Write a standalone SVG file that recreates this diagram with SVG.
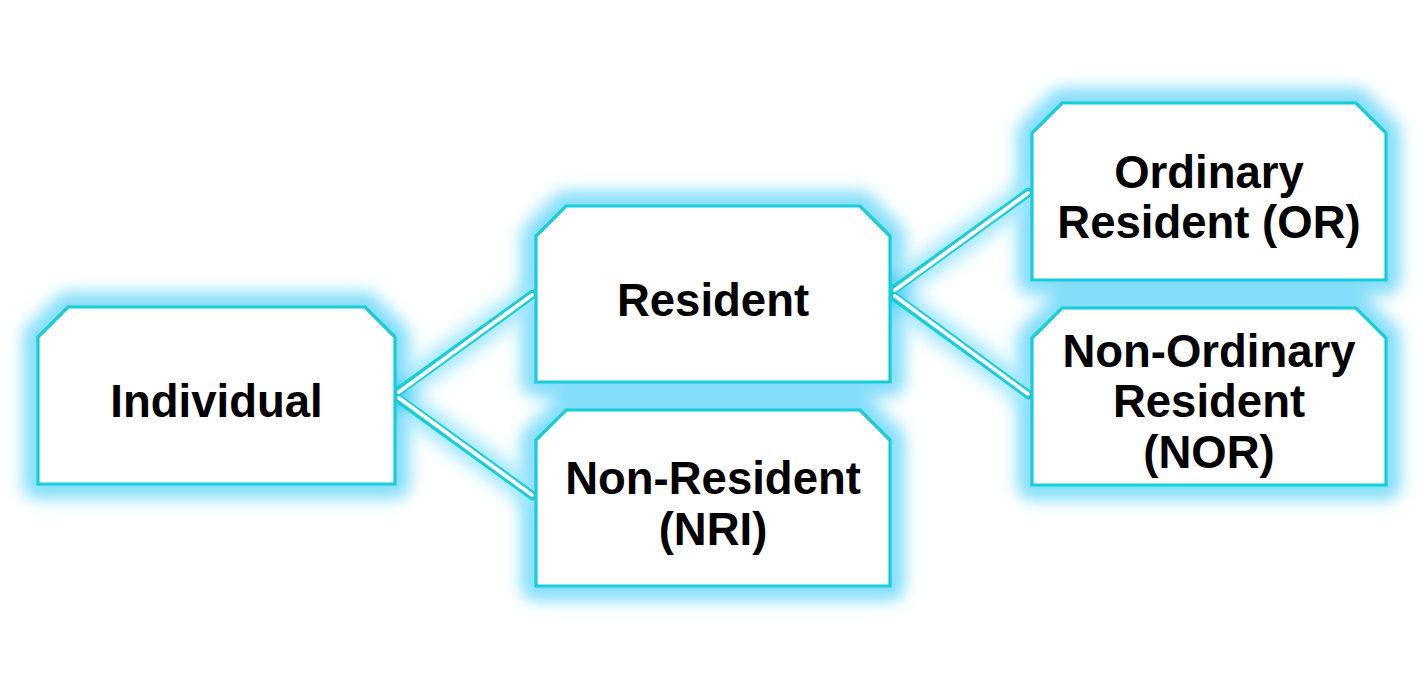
<svg xmlns="http://www.w3.org/2000/svg" width="1426" height="689" viewBox="0 0 1426 689">
<defs>
<style>
.glow{fill:#84def9;stroke:#84def9;stroke-width:30;stroke-linejoin:round}
.node{fill:#ffffff;stroke:#17cdd9;stroke-width:3.2;stroke-linejoin:miter}
.lbl{font-family:"Liberation Sans",Arial,sans-serif;font-weight:bold;font-size:45.5px;fill:#000000;text-anchor:middle}
.cglow{stroke:#9be6fc;stroke-width:24;stroke-linecap:round;fill:none}
.cout{stroke:#17cdd9;stroke-width:9;stroke-linecap:round;fill:none}
.cin{stroke:#ffffff;stroke-width:4;stroke-linecap:round;fill:none}
</style>
<filter id="blur" x="-30%" y="-30%" width="160%" height="160%">
<feGaussianBlur stdDeviation="8"/>
</filter>
<filter id="blur2" x="-50%" y="-50%" width="200%" height="200%">
<feGaussianBlur stdDeviation="9"/>
</filter>
</defs>
<rect width="1426" height="689" fill="#ffffff"/>
<g id="glows" filter="url(#blur)">
<path class="glow" d="M38,337 L68,307 L365,307 L395,337 L395,484 L38,484 Z"/>
<path class="glow" d="M536,236 L566,206 L860,206 L890,236 L890,382 L536,382 Z"/>
<path class="glow" d="M536,440 L566,410 L860,410 L890,440 L890,586 L536,586 Z"/>
<path class="glow" d="M1032,133 L1062,103 L1356,103 L1386,133 L1386,280 L1032,280 Z"/>
<path class="glow" d="M1032,338 L1062,308 L1356,308 L1386,338 L1386,485 L1032,485 Z"/>
</g>
<g id="connectors">
<g filter="url(#blur2)">
<line class="cglow" x1="394" y1="394" x2="534" y2="294"/>
<line class="cglow" x1="394" y1="396" x2="534" y2="496"/>
<line class="cglow" x1="890" y1="292" x2="1030" y2="192"/>
<line class="cglow" x1="890" y1="294" x2="1030" y2="395"/>
<circle cx="392" cy="395" r="18" fill="#2fc8f8"/>
<circle cx="888" cy="293" r="18" fill="#2fc8f8"/>
</g>
<line class="cout" x1="396" y1="393" x2="533" y2="294"/>
<line class="cout" x1="396" y1="397" x2="533" y2="496"/>
<line class="cout" x1="892" y1="291" x2="1029" y2="192"/>
<line class="cout" x1="892" y1="295" x2="1029" y2="395"/>
<line class="cin" x1="399" y1="392" x2="532" y2="295"/>
<line class="cin" x1="399" y1="398" x2="532" y2="495"/>
<line class="cin" x1="895" y1="290" x2="1028" y2="193"/>
<line class="cin" x1="895" y1="296" x2="1028" y2="394"/>
</g>
<g id="node-individual">
<path class="node" d="M38,337 L68,307 L365,307 L395,337 L395,484 L38,484 Z"/>
<text class="lbl" x="216.5" y="417">Individual</text>
</g>
<g id="node-resident">
<path class="node" d="M536,236 L566,206 L860,206 L890,236 L890,382 L536,382 Z"/>
<text class="lbl" x="713" y="316">Resident</text>
</g>
<g id="node-nonresident">
<path class="node" d="M536,440 L566,410 L860,410 L890,440 L890,586 L536,586 Z"/>
<text class="lbl" x="713" y="494">Non-Resident</text>
<text class="lbl" x="713" y="545">(NRI)</text>
</g>
<g id="node-or">
<path class="node" d="M1032,133 L1062,103 L1356,103 L1386,133 L1386,280 L1032,280 Z"/>
<text class="lbl" x="1209" y="188">Ordinary</text>
<text class="lbl" x="1209" y="238">Resident (OR)</text>
</g>
<g id="node-nor">
<path class="node" d="M1032,338 L1062,308 L1356,308 L1386,338 L1386,485 L1032,485 Z"/>
<text class="lbl" x="1209" y="367">Non-Ordinary</text>
<text class="lbl" x="1209" y="417">Resident</text>
<text class="lbl" x="1209" y="468">(NOR)</text>
</g>
</svg>
